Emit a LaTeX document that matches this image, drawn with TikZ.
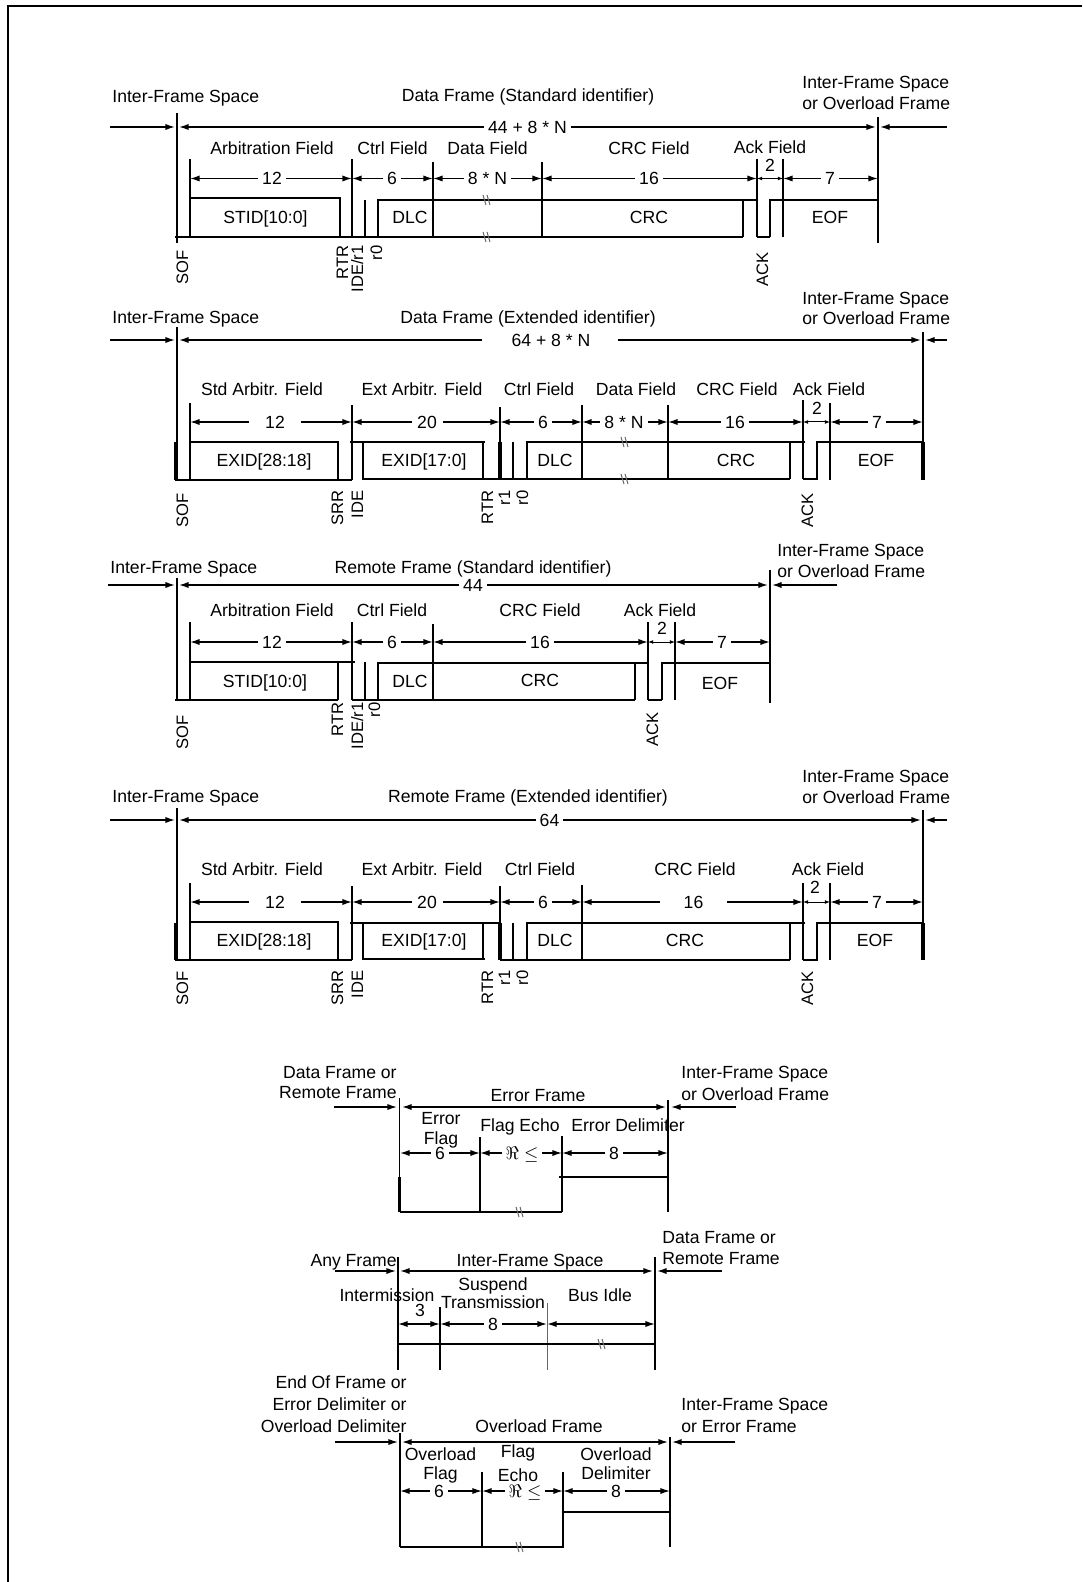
\documentclass[tikz,border=0pt]{standalone}
\usepackage{fontspec}
\setmainfont{Liberation Sans}
\usetikzlibrary{arrows.meta}
\newcommand\lbf{\fontsize{8.8}{10}\selectfont}
\newcommand\rotf{\fontsize{8.3}{10}\selectfont}
\newcommand\brk[2]{\draw[gr] ({#1-4},{#2-5}) -- ({#1-1},{#2+5}) ({#1},{#2-5}) -- ({#1+3},{#2+5});}
\begin{document}
\begin{tikzpicture}[x=0.5pt,y=-0.5pt,
  ln/.style={line width=0.9pt},
  tk/.style={line width=1.8pt},
  gr/.style={line width=0.5pt, black!60},
  arr/.style={line width=0.7pt,-{Latex[length=4.8pt,width=3.1pt]}},
  darr/.style={line width=0.7pt,{Latex[length=4.8pt,width=3.1pt]}-{Latex[length=4.8pt,width=3.1pt]}},
  sarr/.style={line width=0.5pt,{Latex[length=2.6pt,width=2pt]}-{Latex[length=2.6pt,width=2pt]}},
  tx/.style={inner sep=0pt, text height=6.3pt, text depth=0pt, font=\lbf},
  gp/.style={tx, fill=white, inner xsep=2pt, inner ysep=0.6pt},
  rl/.style={rotate=90, anchor=base east, inner sep=0pt, font=\rotf}]
\fill[white] (0,0) rectangle (1082,1582);
\useasboundingbox (0,0) rectangle (1082,1582);
\draw[line width=1pt] (1082,6) -- (8,6) -- (8,1582);

%% ================= Frame 1: Data Frame (Standard identifier)
\draw[arr] (110,127) -- (175,127);
\draw[darr] (179,127) -- (876,127);
\node[gp] (f1len) at (527.5,127) {44 + 8 * N};
\draw[arr] (947,127) -- (880,127);
\draw[ln] (177,113) -- (177,243);
\draw[ln] (878,117) -- (878,243);
\draw[ln] (190,159) -- (190,237) (352,159) -- (352,237) (433,162) -- (433,237)
      (542,162) -- (542,237) (757,159) -- (757,237) (783,159) -- (783,237);
\draw[ln] (175,237) -- (743,237) (757,237) -- (770,237);
\draw[ln] (190,198) -- (340,198) -- (340,237);
\draw[ln] (365,200) -- (365,237);
\draw[ln] (378,237) -- (378,200) -- (757,200);
\draw[ln] (743,200) -- (743,237);
\draw[ln] (770,237) -- (770,200) -- (878,200);
\brk{487}{200} \brk{487}{237}
\draw[darr] (190,178.5) -- (352,178.5); \node[gp] (f1d1) at (272,178.5) {12};
\draw[darr] (352,178.5) -- (433,178.5); \node[gp] (f1d2) at (392,178.5) {6};
\draw[darr] (433,178.5) -- (542,178.5); \node[gp] (f1d3) at (487.5,178.5) {8 * N};
\draw[darr] (542,178.5) -- (757,178.5); \node[gp] (f1d4) at (649,178.5) {16};
\draw[sarr] (757,178.5) -- (783,178.5); \node[tx] (f1d5) at (770,165) {2};
\draw[darr] (783,178.5) -- (878,178.5); \node[gp] (f1d6) at (830,178.5) {7};
\node[tx,anchor=west] (f1a) at (112,96) {Inter-Frame Space};
\node[tx] (f1t) at (528,95) {Data Frame (Standard identifier)};
\node[tx,anchor=west] (f1r1) at (802,82) {Inter-Frame Space};
\node[tx,anchor=west] (f1r2) at (802,103) {or Overload Frame};
\node[tx] (f1fa) at (272,148) {Arbitration Field};
\node[tx] (f1fb) at (392.5,148) {Ctrl Field};
\node[tx] (f1fc) at (487.5,148) {Data Field};
\node[tx] (f1fd) at (649,148) {CRC Field};
\node[tx] (f1fe) at (770,147) {Ack Field};
\node[tx] (f1b1) at (265.5,217.5) {STID[10:0]};
\node[tx] (f1b2) at (410,217.5) {DLC};
\node[tx] (f1b3) at (649,217.5) {CRC};
\node[tx] (f1b4) at (830,217.5) {EOF};
\node[rl] (f1s1) at (188,250) {SOF};
\node[rl] (f1s2) at (348,245) {RTR};
\node[rl] (f1s3) at (363,245) {IDE/r1};
\node[rl] (f1s4) at (382,245) {r0};
\node[rl] (f1s5) at (768,252) {ACK};

%% ================= Frame 2: Data Frame (Extended identifier)
\draw[arr] (110,340) -- (175,340);
\draw[arr] (482,340) -- (179,340);
\draw[arr] (618,340) -- (921,340);
\node[tx] (f2len) at (551,340) {64 + 8 * N};
\draw[arr] (947,340) -- (925,340);
\draw[ln] (177,327) -- (177,480);
\draw[tk] (176,442) -- (176,480);
\draw[ln] (923,332) -- (923,480);
\draw[tk] (923,442) -- (923,480);
\draw[ln] (190,403) -- (190,480) (352,405) -- (352,480) (500,407) -- (500,480)
      (582,405) -- (582,479) (668,405) -- (668,480) (803,400) -- (803,479) (830,403) -- (830,480);
\draw[tk] (500,442) -- (500,480);
\draw[ln] (175,480) -- (352,480);
\draw[ln] (190,442) -- (338,442) -- (338,480);
\draw[ln] (350,442) -- (485,442);
\draw[ln] (363,442) -- (363,479) -- (790,479);
\draw[ln] (483,442) -- (483,479);
\draw[ln] (513,442) -- (513,479);
\draw[ln] (527,479) -- (527,442) -- (805,442);
\draw[ln] (790,442) -- (790,479);
\draw[ln] (803,479) -- (817,479) -- (817,442) -- (923,442);
\brk{625}{442} \brk{625}{479}
\draw[darr] (190,422) -- (352,422); \node[gp,minimum width=26pt] (f2d1) at (275,422) {12};
\draw[darr] (352,422) -- (500,422); \node[gp,minimum width=15.5pt] (f2d2) at (427,422) {20};
\draw[darr] (500,422) -- (582,422); \node[gp] (f2d3) at (543,422) {6};
\draw[darr] (582,422) -- (668,422); \node[gp] (f2d4) at (624,422) {8 * N};
\draw[darr] (668,422) -- (803,422); \node[gp] (f2d5) at (735,422) {16};
\draw[sarr] (803,422) -- (830,422); \node[tx] (f2d6) at (817,408) {2};
\draw[darr] (830,422) -- (923,422); \node[gp] (f2d7) at (877,422) {7};
\node[tx,anchor=west] (f2a) at (112,317) {Inter-Frame Space};
\node[tx] (f2t) at (528,317) {Data Frame (Extended identifier)};
\node[tx,anchor=west] (f2r1) at (802,298) {Inter-Frame Space};
\node[tx,anchor=west] (f2r2) at (802,318.5) {or Overload Frame};
\node[tx] (f2fa) at (262,389) {Std Arbitr. Field};
\node[tx] (f2fb) at (422,389) {Ext Arbitr. Field};
\node[tx] (f2fc) at (539,389) {Ctrl Field};
\node[tx] (f2fd) at (636,389) {Data Field};
\node[tx] (f2fe) at (737,389) {CRC Field};
\node[tx] (f2ff) at (829,389) {Ack Field};
\node[tx] (f2b1) at (264,460) {EXID[28:18]};
\node[tx] (f2b2) at (424,460) {EXID[17:0]};
\node[tx] (f2b3) at (555,460) {DLC};
\node[tx] (f2b4) at (736,460) {CRC};
\node[tx] (f2b5) at (876,460) {EOF};
\node[rl] (f2s1) at (188,493) {SOF};
\node[rl] (f2s2) at (343,490) {SRR};
\node[rl] (f2s3) at (363,490) {IDE};
\node[rl] (f2s4) at (493,490) {RTR};
\node[rl] (f2s5) at (510,490) {r1};
\node[rl] (f2s6) at (528,490) {r0};
\node[rl] (f2s7) at (813,493) {ACK};

%% ================= Frame 3: Remote Frame (Standard identifier)
\draw[arr] (108,585) -- (175,585);
\draw[darr] (179,585) -- (768,585);
\node[gp] (f3len) at (473,585) {44};
\draw[arr] (837,585) -- (772,585);
\draw[ln] (177,578) -- (177,700);
\draw[ln] (770,570) -- (770,703);
\draw[ln] (190,622) -- (190,700) (352,622) -- (352,700) (433,624) -- (433,700)
      (648,622) -- (648,700) (675,622) -- (675,700);
\draw[ln] (175,700) -- (338,700) (352,700) -- (635,700) (648,700) -- (662,700);
\draw[ln] (190,662) -- (355,662);
\draw[ln] (338,662) -- (338,700);
\draw[ln] (365,662) -- (365,700);
\draw[ln] (378,700) -- (378,663) -- (648,663);
\draw[ln] (635,663) -- (635,700);
\draw[ln] (662,700) -- (662,663) -- (770,663);
\draw[darr] (190,642) -- (352,642); \node[gp] (f3d1) at (272,642) {12};
\draw[darr] (352,642) -- (433,642); \node[gp] (f3d2) at (392,642) {6};
\draw[darr] (433,642) -- (648,642); \node[gp] (f3d3) at (540,642) {16};
\draw[sarr] (648,642) -- (675,642); \node[tx] (f3d4) at (662,628) {2};
\draw[darr] (675,642) -- (770,642); \node[gp] (f3d5) at (722,642) {7};
\node[tx,anchor=west] (f3a) at (110,567) {Inter-Frame Space};
\node[tx] (f3t) at (473,567) {Remote Frame (Standard identifier)};
\node[tx,anchor=west] (f3r1) at (777,550) {Inter-Frame Space};
\node[tx,anchor=west] (f3r2) at (777,571) {or Overload Frame};
\node[tx] (f3fa) at (272,610) {Arbitration Field};
\node[tx] (f3fb) at (392,610) {Ctrl Field};
\node[tx] (f3fc) at (540,610) {CRC Field};
\node[tx] (f3fd) at (660,610) {Ack Field};
\node[tx] (f3b1) at (265,681) {STID[10:0]};
\node[tx] (f3b2) at (410,681) {DLC};
\node[tx] (f3b3) at (540,680) {CRC};
\node[tx] (f3b4) at (720,683) {EOF};
\node[rl] (f3s1) at (188,715) {SOF};
\node[rl] (f3s2) at (343,702) {RTR};
\node[rl] (f3s3) at (363,702) {IDE/r1};
\node[rl] (f3s4) at (380,702) {r0};
\node[rl] (f3s5) at (658,712) {ACK};

%% ================= Frame 4: Remote Frame (Extended identifier)
\draw[arr] (110,820) -- (175,820);
\draw[darr] (179,820) -- (921,820);
\node[gp] (f4len) at (549.5,820) {64};
\draw[arr] (947,820) -- (925,820);
\draw[ln] (177,808) -- (177,960);
\draw[tk] (176,923) -- (176,960);
\draw[ln] (923,810) -- (923,960);
\draw[tk] (923,923) -- (923,960);
\draw[ln] (190,883) -- (190,960) (352,886) -- (352,960) (500,886) -- (500,960)
      (582,885) -- (582,960) (803,883) -- (803,960) (830,883) -- (830,960);
\draw[tk] (500,923) -- (500,960);
\draw[ln] (175,960) -- (352,960);
\draw[ln] (190,922) -- (338,922) -- (338,960);
\draw[ln] (350,923) -- (500,923);
\draw[ln] (363,923) -- (363,959) -- (485,959);
\draw[ln] (483,923) -- (483,959);
\draw[ln] (500,960) -- (790,960);
\draw[ln] (513,923) -- (513,960);
\draw[ln] (527,960) -- (527,923) -- (805,923);
\draw[ln] (790,923) -- (790,960);
\draw[ln] (803,960) -- (817,960) -- (817,923) -- (923,923);
\draw[darr] (190,902) -- (352,902); \node[gp,minimum width=26pt] (f4d1) at (275,902) {12};
\draw[darr] (352,902) -- (500,902); \node[gp,minimum width=15.5pt] (f4d2) at (427,902) {20};
\draw[darr] (500,902) -- (582,902); \node[gp] (f4d3) at (543,902) {6};
\draw[darr] (582,902) -- (803,902); \node[gp,minimum width=33.5pt] (f4d4) at (693.5,902) {16};
\draw[sarr] (803,902) -- (830,902); \node[tx] (f4d5) at (815,887) {2};
\draw[darr] (830,902) -- (923,902); \node[gp] (f4d6) at (877,902) {7};
\node[tx,anchor=west] (f4a) at (112,796) {Inter-Frame Space};
\node[tx] (f4t) at (528,796) {Remote Frame (Extended identifier)};
\node[tx,anchor=west] (f4r1) at (802,776) {Inter-Frame Space};
\node[tx,anchor=west] (f4r2) at (802,797) {or Overload Frame};
\node[tx] (f4fa) at (262,869) {Std Arbitr. Field};
\node[tx] (f4fb) at (422,869) {Ext Arbitr. Field};
\node[tx] (f4fc) at (540,869) {Ctrl Field};
\node[tx] (f4fd) at (695,869) {CRC Field};
\node[tx] (f4fe) at (828,869) {Ack Field};
\node[tx] (f4b1) at (264,940) {EXID[28:18]};
\node[tx] (f4b2) at (424,940) {EXID[17:0]};
\node[tx] (f4b3) at (555,940) {DLC};
\node[tx] (f4b4) at (685,940) {CRC};
\node[tx] (f4b5) at (875,940) {EOF};
\node[rl] (f4s1) at (188,971) {SOF};
\node[rl] (f4s2) at (343,970) {SRR};
\node[rl] (f4s3) at (363,970) {IDE};
\node[rl] (f4s4) at (493,970) {RTR};
\node[rl] (f4s5) at (510,970) {r1};
\node[rl] (f4s6) at (528,970) {r0};
\node[rl] (f4s7) at (813,971) {ACK};

%% ================= Error Frame
\draw[arr] (334,1107) -- (397,1107);
\draw[darr] (402,1107) -- (666,1107);
\draw[arr] (736,1107) -- (671,1107);
\draw[ln] (399.5,1098) -- (399.5,1212);
\draw[tk] (399.5,1177) -- (399.5,1212);
\draw[ln] (668,1100) -- (668,1212);
\draw[ln] (480,1137) -- (480,1212);
\draw[ln] (562,1136) -- (562,1212);
\draw[ln] (559,1177) -- (668,1177);
\draw[ln] (399.5,1212) -- (562,1212);
\brk{520}{1212}
\draw[darr] (400,1153) -- (480,1153); \node[gp] (e1) at (440,1153) {6};
\draw[darr] (480,1153) -- (562,1153); \node[gp] (e2) at (522,1153) {$\Re\le$};
\draw[darr] (562,1153) -- (668,1153); \node[gp] (e3) at (614,1153) {8};
\node[tx,anchor=east] (e4) at (397,1072) {Data Frame or};
\node[tx,anchor=east] (e5) at (397,1092) {Remote Frame};
\node[tx] (e6) at (538,1095) {Error Frame};
\node[tx,anchor=west] (e7) at (681,1072) {Inter-Frame Space};
\node[tx,anchor=west] (e8) at (681,1094) {or Overload Frame};
\node[tx] (e9) at (441,1118) {Error};
\node[tx] (e10) at (441,1138) {Flag};
\node[tx] (e11) at (520,1125) {Flag Echo};
\node[tx] (e12) at (628,1125) {Error Delimiter};

%% ================= Inter-Frame Space
\draw[arr] (335,1271) -- (396,1271);
\draw[darr] (400,1271) -- (653,1271);
\draw[arr] (722,1271) -- (657,1271);
\draw[ln] (398,1257) -- (398,1370);
\draw[ln] (655,1257) -- (655,1370);
\draw[ln] (440,1307) -- (440,1370);
\draw[gr] (547,1303) -- (547,1370);
\draw[ln] (398,1344) -- (655,1344);
\brk{602}{1344}
\draw[darr] (398,1324) -- (440,1324);
\draw[darr] (440,1324) -- (547,1324); \node[gp] (i1) at (493,1324) {8};
\draw[darr] (547,1324) -- (655,1324);
\node[tx,anchor=east] (i2) at (397,1260) {Any Frame};
\node[tx] (i3) at (530,1260) {Inter-Frame Space};
\node[tx,anchor=west] (i4) at (662,1237) {Data Frame or};
\node[tx,anchor=west] (i5) at (662,1258) {Remote Frame};
\node[tx] (i6) at (387,1295) {Intermission};
\node[tx] (i7) at (420,1310) {3};
\node[tx] (i8) at (493,1284) {Suspend};
\node[tx] (i9) at (493,1302) {Transmission};
\node[tx] (i10) at (600,1295) {Bus Idle};

%% ================= Overload Frame
\draw[arr] (335,1442) -- (398,1442);
\draw[darr] (402,1442) -- (668,1442);
\draw[arr] (735,1442) -- (672,1442);
\draw[ln] (400,1433) -- (400,1547);
\draw[ln] (670,1437) -- (670,1547);
\draw[ln] (482,1472) -- (482,1548);
\draw[ln] (563,1472) -- (563,1548);
\draw[ln] (563,1512) -- (670,1512);
\draw[ln] (400,1547) -- (563,1547);
\brk{520}{1547}
\draw[darr] (400,1491) -- (482,1491); \node[gp] (o1) at (439,1491) {6};
\draw[darr] (482,1491) -- (563,1491); \node[gp] (o2) at (525,1491) {$\Re\le$};
\draw[darr] (563,1491) -- (670,1491); \node[gp] (o3) at (616,1491) {8};
\node[tx,anchor=east] (o4) at (407,1382) {End Of Frame or};
\node[tx,anchor=east] (o5) at (407,1404) {Error Delimiter or};
\node[tx,anchor=east] (o6) at (407,1426) {Overload Delimiter};
\node[tx] (o7) at (539,1426) {Overload Frame};
\node[tx,anchor=west] (o8) at (681,1404) {Inter-Frame Space};
\node[tx,anchor=west] (o9) at (681,1426) {or Error Frame};
\node[tx] (o10) at (440.5,1454) {Overload};
\node[tx] (o11) at (440.5,1473) {Flag};
\node[tx] (o12) at (518,1451) {Flag};
\node[tx] (o13) at (518,1475.5) {Echo};
\node[tx] (o14) at (616,1454) {Overload};
\node[tx] (o15) at (616,1473) {Delimiter};
\end{tikzpicture}
\end{document}
